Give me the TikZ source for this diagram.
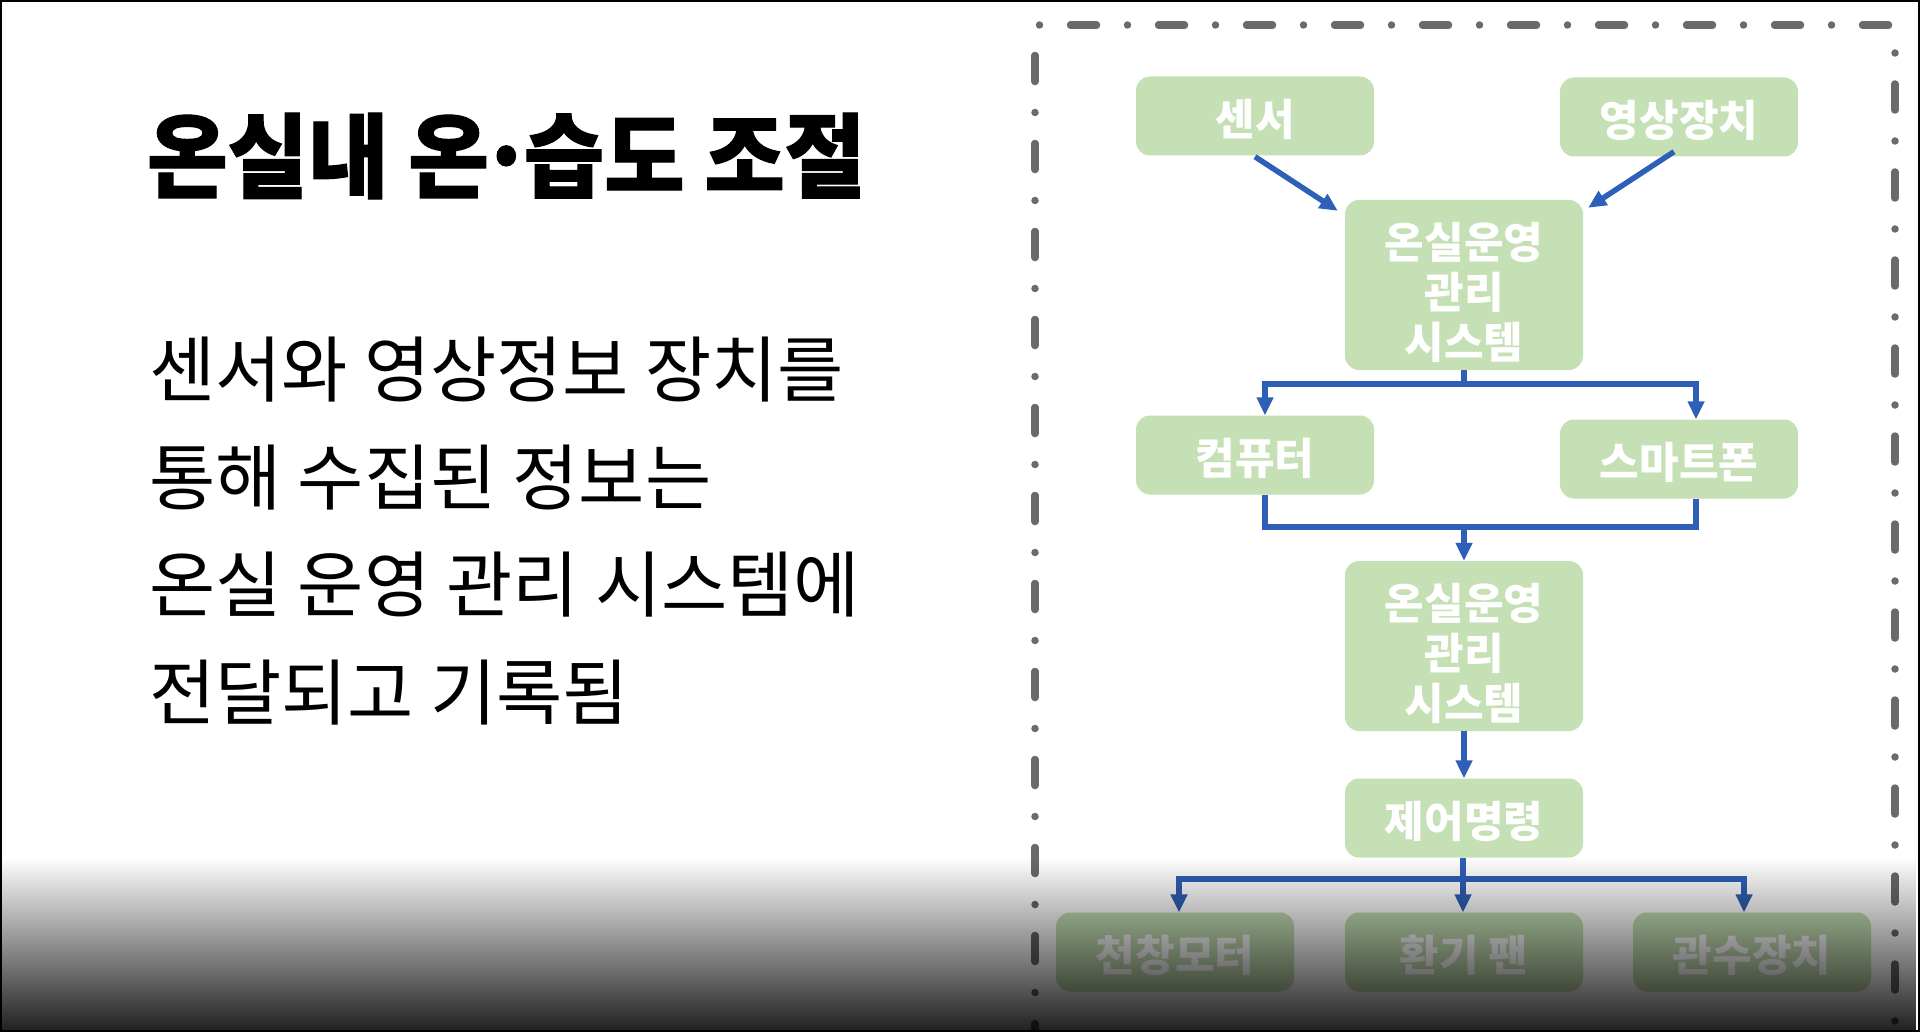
\documentclass[tikz,border=0pt]{standalone}
\usepackage{fontspec}
\usetikzlibrary{arrows.meta,calc,fadings}
\newfontfamily\krtitle[FakeStretch=0.95, FakeBold=1.2]{Noto Sans CJK KR}
\newfontfamily\krbody{Noto Sans CJK KR}
\newfontfamily\krbox{Noto Sans CJK KR}
\definecolor{boxgreen}{HTML}{C5E0B4}
\definecolor{arrblue}{HTML}{2F60B8}
\definecolor{framegray}{HTML}{6A6A6A}
\newcommand\lowtext[2]{\raisebox{#1}[\height][\depth]{#2}}
\newcommand\sysname{\lowtext{-12pt}{\renewcommand\arraystretch{0.96}\begin{tabular}{@{}c@{}}온실운영\\관리\\시스템\end{tabular}}}
\tikzfading[name=fadebottom, top color=transparent!100, bottom color=transparent!12]
\begin{document}
\begin{tikzpicture}[x=1pt,y=-1pt,
  box/.style={fill=boxgreen, rounded corners=14pt, minimum width=238pt, minimum height=79pt,
    inner sep=0pt, text=white, font=\krbox\bfseries\fontsize{43}{48}\selectfont, align=center},
  tallbox/.style={box, minimum height=170pt},
  arr/.style={draw=arrblue, line width=5.5pt, -{Triangle[length=18pt,width=16pt]}},
  ln/.style={draw=arrblue, line width=5.5pt},
  dd/.style={framegray, line width=7.5pt, line cap=round, dash pattern=on 26pt off 31pt on 0pt off 31pt},
  bodytext/.style={anchor=west, inner sep=0pt, font=\krbody\fontsize{72}{80}\selectfont},
  titletext/.style={anchor=west, inner sep=0pt, font=\krtitle\bfseries\fontsize{92}{100}\selectfont}]
\useasboundingbox (0,0) rectangle (1920,1032);
\clip (0,0) rectangle (1920,1032);
\fill[white] (0,0) rectangle (1920,1032);

% left text
\node[titletext] (title) at (147,156) {온실내 온\kern-0.1em·\kern-0.1em습도 조절};
\node[bodytext] (l1) at (149,370) {센서와 영상정보 장치를};
\node[bodytext] (l2) at (149,478) {통해 수집된 정보는};
\node[bodytext] (l3) at (149,585) {온실 운영 관리 시스템에};
\node[bodytext] (l4) at (149,693) {전달되고 기록됨};

% dash-dot frame
\coordinate (ftl) at (1035,25);
\coordinate (ftr) at (1895,25);
\coordinate (fbl) at (1035,1100);
\coordinate (fbr) at (1895,1100);
\draw[dd, dash phase=52.5pt] (ftl) -- (ftr);
\draw[dd, dash phase=57.5pt] (ftl) -- (fbl);
\draw[dd, dash phase=29pt] (ftr) -- (fbr);

% boxes
\node[box] (sensor) at (1255,116) {\lowtext{-3pt}{센서}};
\node[box] (video) at (1679,117) {\lowtext{-3pt}{영상장치}};
\node[tallbox] (sys1) at (1464,285) {\sysname};
\node[box] (comp) at (1255,455) {\lowtext{-3pt}{컴퓨터}};
\node[box] (phone) at (1679,459) {\lowtext{-3pt}{스마트폰}};
\node[tallbox] (sys2) at (1464,646) {\sysname};
\node[box] (cmd) at (1464,818) {\lowtext{-3pt}{제어명령}};
\node[box] (motor) at (1175,952) {\lowtext{-3pt}{천창모터}};
\node[box] (fan) at (1464,952) {\lowtext{-3pt}{환기 팬}};
\node[box] (water) at (1752,952) {\lowtext{-3pt}{관수장치}};

% connectors
\draw[arr] ($(sensor.south)+(0,1)$) -- ($(sys1.north west)+(-7,11)$);
\draw[arr] ($(video.south)+(-5,-5)$) -- ($(sys1.north east)+(5,8)$);

\coordinate (j1) at (1464,384);
\draw[ln] (sys1.south) -- (j1);
\draw[arr] (j1) -| ($(comp.north)+(10,0)$);
\draw[arr] (j1) -| ($(phone.north)+(17,0)$);

\coordinate (j2) at (1464,527);
\draw[ln] ($(comp.south)+(10,0)$) |- (j2);
\draw[ln] ($(phone.south)+(17,0)$) |- (j2);
\draw[arr] (j2) -- (sys2.north);

\draw[arr] (sys2.south) -- (cmd.north);

\coordinate (j3) at (1463,879);
\draw[ln] (cmd.south -| j3) -- (j3);
\draw[arr] (j3) -| ($(motor.north)+(4,0)$);
\draw[arr] (j3) -- (fan.north -| j3);
\draw[arr] (j3) -| ($(water.north)+(-8,0)$);

% bottom darkening
\fill[black, path fading=fadebottom] (0,857) rectangle (1920,1032);

% outer frame
\draw[black, line width=4pt] (0,0) rectangle (1920,1032);
\end{tikzpicture}
\end{document}
